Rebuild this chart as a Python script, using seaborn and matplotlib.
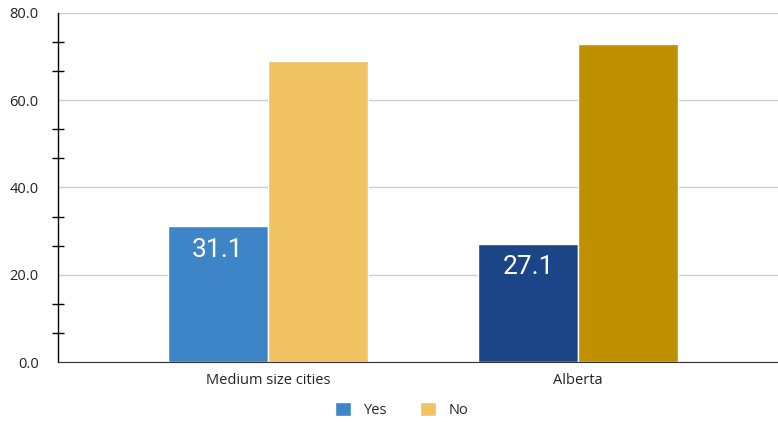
import matplotlib
matplotlib.use("Agg")
import matplotlib.pyplot as plt
import seaborn as sns
import pandas as pd
from matplotlib.patches import Patch
from matplotlib.ticker import MultipleLocator, FormatStrFormatter

categories = ["Medium size cities", "Alberta"]
series = ["Yes", "No"]
yes_values = [31.1, 27.1]
no_values = [68.9, 72.9]
label_values = ["31.1", "27.1"]
bar_colors = {("Medium size cities", "Yes"): "#3d85c6",
              ("Medium size cities", "No"): "#f1c262",
              ("Alberta", "Yes"): "#1c4587",
              ("Alberta", "No"): "#bf9000"}

rows = []
for c, y, n in zip(categories, yes_values, no_values):
    rows.append({"cat": c, "answer": "Yes", "value": y})
    rows.append({"cat": c, "answer": "No", "value": n})
df = pd.DataFrame(rows)

sns.set_style("white")
plt.rcParams["font.family"] = ["Open Sans", "DejaVu Sans"]

fig = plt.figure(figsize=(7.78, 4.22), dpi=100)
ax = fig.add_axes([58 / 778, 1 - 362 / 422, 720 / 778, 349 / 422])

sns.barplot(data=df, x="cat", y="value", hue="answer", order=categories,
            hue_order=series, width=0.645, ax=ax, legend=False,
            edgecolor="white", linewidth=1.0, saturation=1)

# recolor bars per category/series
for patch in ax.patches:
    xc = patch.get_x() + patch.get_width() / 2
    ci = int(round(xc))
    si = 0 if xc < ci else 1
    patch.set_facecolor(bar_colors[(categories[ci], series[si])])

# value labels on Yes bars
for i, (v, lab) in enumerate(zip(yes_values, label_values)):
    ax.text(i - 0.161, v - 2.6, lab, ha="center", va="top", color="white",
            fontsize=19, family=["Roboto", "DejaVu Sans"])

ax.set_xlim(-0.677, 1.645)
ax.set_ylim(0, 80)
ax.yaxis.set_major_locator(MultipleLocator(20))
ax.yaxis.set_minor_locator(MultipleLocator(20 / 3))
ax.yaxis.set_major_formatter(FormatStrFormatter("%.1f"))
ax.grid(axis="y", which="major", color="#cccccc", linewidth=1)
ax.set_axisbelow(True)
for s in ["top", "right"]:
    ax.spines[s].set_visible(False)
ax.spines["left"].set_color("#000000")
ax.spines["bottom"].set_color("#333333")
ax.spines["left"].set_linewidth(1)
ax.tick_params(axis="y", which="major", length=0, labelsize=10.5, pad=14, colors="#222222")
ax.tick_params(axis="y", which="minor", length=8, width=1, direction="inout", color="#000000", left=True)
ax.tick_params(axis="x", length=0, labelsize=10.5, pad=8, colors="#222222")
ax.set_xlabel("")
ax.set_ylabel("")

handles = [Patch(facecolor="#3d85c6", label="Yes"), Patch(facecolor="#f1c262", label="No")]
fig.legend(handles=handles, loc="center", bbox_to_anchor=(402 / 778, 1 - 410 / 422),
           ncol=2, frameon=False, fontsize=10.5, handlelength=1.1, handleheight=1.1,
           columnspacing=2.2, handletextpad=0.9)

fig.savefig("out.png", dpi=100)
